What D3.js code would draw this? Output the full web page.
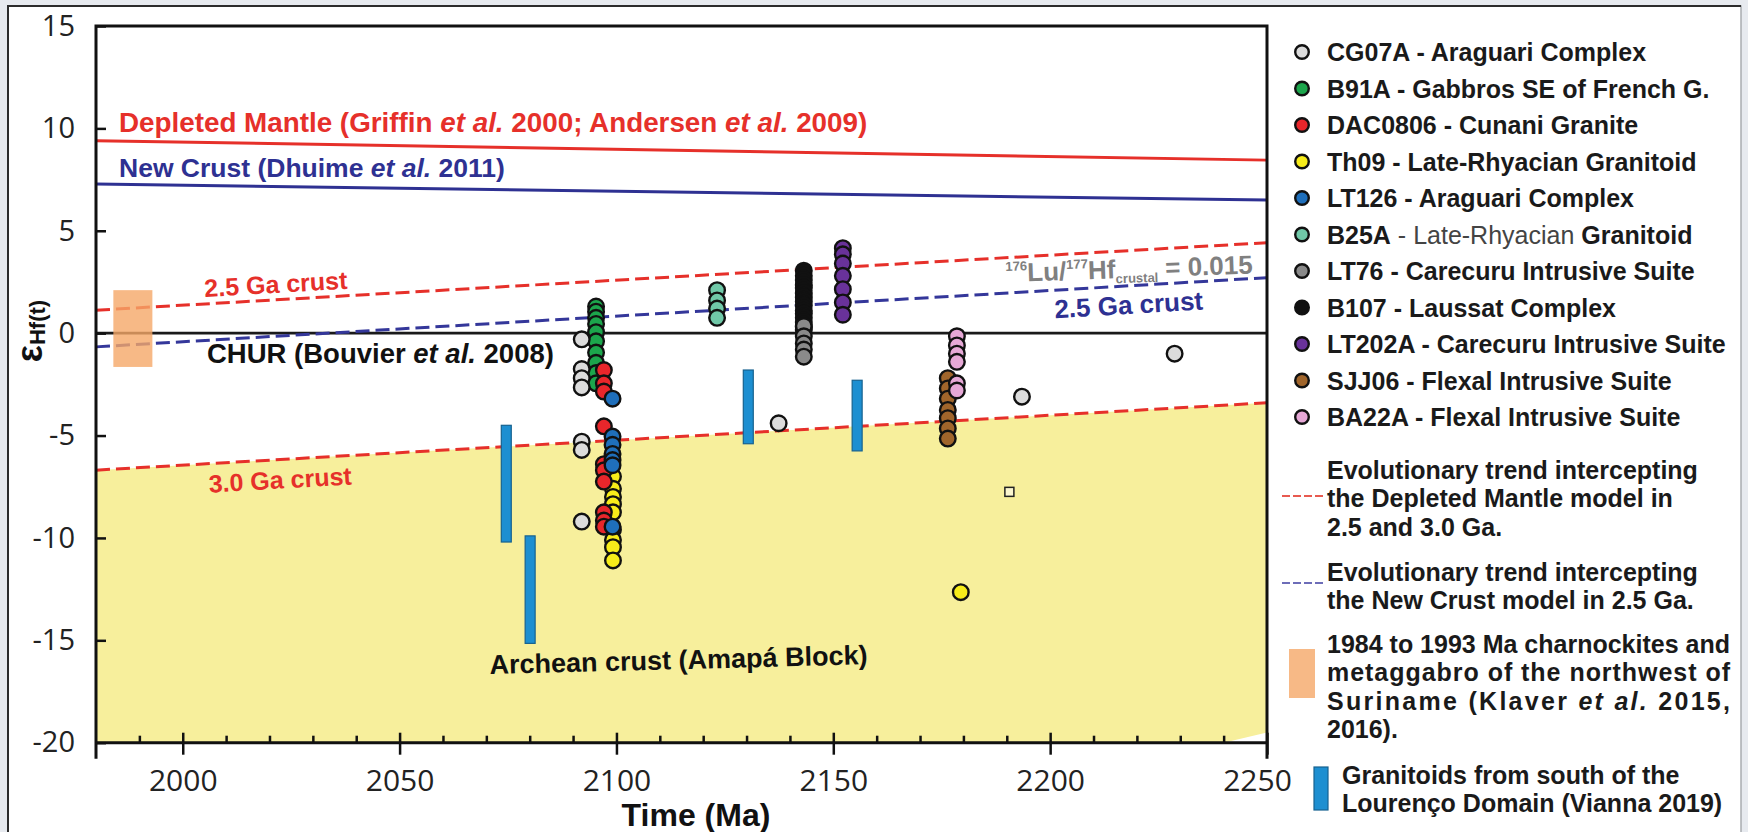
<!DOCTYPE html>
<html>
<head>
<meta charset="utf-8">
<script src="https://cdn.jsdelivr.net/npm/d3@7"></script>
<style>
  html, body { margin: 0; padding: 0; background: #e7eaef; }
  svg { display: block; }
  .bold { font-family: "Liberation Sans", Arial, sans-serif; font-weight: bold; }
  .tick text { font-family: "Open Sans", sans-serif; fill: #222; }
</style>
</head>
<body>
<svg id="chart" width="1748" height="832"></svg>
<script>
// ---------- data ----------
const xTicks = [2000, 2050, 2100, 2150, 2200, 2250];
const xMinorTicks = [1990, 2010, 2020, 2030, 2040, 2060, 2070, 2080, 2090, 2110, 2120, 2130, 2140,
                     2160, 2170, 2180, 2190, 2210, 2220, 2230, 2240];
const yTicks = [15, 10, 5, 0, -5, -10, -15, -20];

// model evolution lines: [age (Ma), εHf(t)]
const depletedMantle = [[1980, 9.4], [2250, 8.45]];
const newCrust       = [[1980, 7.28], [2250, 6.5]];
const chur           = [[1980, 0], [2250, 0]];
const dmCrust25      = [[1980, 1.12], [2250, 4.42]];
const dmCrust30      = [[1980, -6.69], [2250, -3.4]];
const ncCrust25      = [[1980, -0.67], [2250, 2.71]];
const archeanFloor   = [[2250, -19.5], [2240, -20], [1980, -20]];

// Klaver et al. field: [age min, age max, εHf min, εHf max]
const klaverField = [1984, 1993, -1.65, 2.1];
// Vianna (2019) granitoid ranges: [age, εHf min, εHf max]
const viannaRanges = [[2074.6, -10.2, -4.5], [2080.1, -15.15, -9.9], [2130.4, -5.4, -1.8], [2155.5, -5.75, -2.3]];
// isolated open square
const openSquare = [[2190.6, -7.75]];

// zircon Lu-Hf analyses: [age (Ma), εHf(t)]
const CG07A = [[2092, -0.3], [2092, -1.75], [2092, -2.2], [2092, -2.65], [2092, -5.3], [2092, -5.7],
               [2092, -9.2], [2137.4, -4.4], [2193.5, -3.1], [2228.7, -1.0]];
const B91A = [[2095.3, 1.3], [2095.3, 1.05], [2095.3, 0.75], [2095.3, 0.45], [2095.3, 0.05], [2095.3, -0.4],
              [2095.3, -0.95], [2095.3, -1.45], [2095.3, -1.95], [2095.3, -2.45]];
const DAC0806 = [[2097.1, -1.8], [2097.1, -2.45], [2097.1, -2.85], [2097.1, -4.55], [2097.1, -6.4],
                 [2097.1, -6.7], [2097.1, -7.25], [2097.1, -8.75], [2097.1, -9.15], [2097.1, -9.45]];
const Th09 = [[2099.2, -7.0], [2099.2, -7.6], [2099.2, -8.0], [2099.2, -8.35], [2099.2, -8.75],
              [2099.2, -9.6], [2099.2, -10.1], [2099.2, -10.45], [2099.2, -11.1], [2179.4, -12.65]];
const LT126 = [[2099.1, -3.2], [2099.1, -5.05], [2099.1, -5.45], [2099.1, -5.9], [2099.1, -6.2],
               [2099.1, -6.45], [2099.1, -9.45]];
const B25A = [[2123.2, 2.1], [2123.2, 1.6], [2123.2, 1.2], [2123.2, 0.75]];
const LT76 = [[2143.2, 0.35], [2143.2, -0.15], [2143.2, -0.5], [2143.2, -0.8], [2143.2, -1.15]];
const B107 = [[2143.2, 3.05], [2143.2, 2.8], [2143.2, 2.6], [2143.2, 2.35], [2143.2, 2.2], [2143.2, 1.95],
              [2143.2, 1.75], [2143.2, 1.55], [2143.2, 1.35], [2143.2, 1.1], [2143.2, 0.95], [2143.2, 0.75],
              [2143.2, 0.55], [2143.2, 0.3], [2143.2, 0.15]];
const LT202A = [[2152.2, 4.15], [2152.2, 3.85], [2152.2, 3.4], [2152.2, 2.8], [2152.2, 2.15],
                [2152.2, 1.5], [2152.2, 0.9]];
const SJJ06 = [[2176.4, -2.2], [2176.4, -2.7], [2176.4, -3.2], [2176.4, -3.75], [2176.4, -4.15],
               [2176.4, -4.65], [2176.4, -5.15]];
const BA22A = [[2178.5, -0.15], [2178.5, -0.6], [2178.5, -1.0], [2178.5, -1.4], [2178.5, -2.45], [2178.5, -2.8]];

// legend entries (sample id, unit)
const sampleIds = ["CG07A", "B91A", "DAC0806", "Th09", "LT126", "B25A", "LT76", "B107", "LT202A", "SJJ06", "BA22A"];
const sampleUnits = ["Araguari Complex", "Gabbros SE of French G.", "Cunani Granite", "Late-Rhyacian Granitoid",
                     "Araguari Complex", "Late-Rhyacian Granitoid", "Carecuru Intrusive Suite", "Laussat Complex",
                     "Carecuru Intrusive Suite", "Flexal Intrusive Suite", "Flexal Intrusive Suite"];

// ---------- styles ----------
const palette = {
  CG07A: "#dcdcdc", B91A: "#1ca64c", DAC0806: "#e8262b", Th09: "#f7ec1a", LT126: "#1f6fbb",
  B25A: "#70c8a8", LT76: "#8a8a8a", B107: "#111111", LT202A: "#69329a", SJJ06: "#a0652b", BA22A: "#e6a8d6"
};
const sampleData = { CG07A, B91A, DAC0806, Th09, LT126, B25A, LT76, B107, LT202A, SJJ06, BA22A };
const drawOrder = ["B91A", "CG07A", "Th09", "DAC0806", "LT126", "B25A", "B107", "LT76", "LT202A", "SJJ06", "BA22A"];

const RED = "#e6302a", NAVY = "#2e3192";

// ---------- layout ----------
const svg = d3.select("#chart");
const x = d3.scaleLinear().domain([1980, 2250]).range([96, 1267]);
const y = d3.scaleLinear().domain([-20, 15]).range([742.7, 26]);
const line = d3.line().x(d => x(d[0])).y(d => y(d[1]));
const valueAt = (ln, t) => ln[0][1] + (ln[1][1] - ln[0][1]) * (t - ln[0][0]) / (ln[1][0] - ln[0][0]);
const slopeDeg = ln => Math.atan2(y(ln[1][1]) - y(ln[0][1]), x(ln[1][0]) - x(ln[0][0])) * 180 / Math.PI;

// white panel
svg.append("rect").attr("x", 8).attr("y", 6).attr("width", 1733).attr("height", 830)
  .attr("fill", "#fff").attr("stroke", "#a9acb0").attr("stroke-width", 1.5);
svg.append("path").attr("d", "M8,840 L8,6 L1741,6").attr("fill", "none")
  .attr("stroke", "#2c2c2c").attr("stroke-width", 2);

const plot = svg.append("g");

// Archean crust field below the 3.0 Ga trend
const fieldPts = dmCrust30.concat(archeanFloor);
plot.append("path")
  .attr("d", "M" + fieldPts.map(d => [x(d[0]), y(d[1])].join(",")).join("L") + "Z")
  .attr("fill", "#f7ef9c");

// model lines
plot.append("path").attr("d", line(depletedMantle)).attr("stroke", RED).attr("stroke-width", 3).attr("fill", "none");
plot.append("path").attr("d", line(newCrust)).attr("stroke", NAVY).attr("stroke-width", 3).attr("fill", "none");
plot.append("path").attr("d", line(chur)).attr("stroke", "#1a1a1a").attr("stroke-width", 2.6).attr("fill", "none");
[dmCrust25, dmCrust30].forEach(ln =>
  plot.append("path").attr("d", line(ln)).attr("stroke", RED).attr("stroke-width", 3)
    .attr("stroke-dasharray", "14,6").attr("fill", "none"));
plot.append("path").attr("d", line(ncCrust25)).attr("stroke", "#34379a").attr("stroke-width", 3)
  .attr("stroke-dasharray", "14,6").attr("fill", "none");

// Klaver et al. field
plot.append("rect")
  .attr("x", x(klaverField[0])).attr("width", x(klaverField[1]) - x(klaverField[0]))
  .attr("y", y(klaverField[3])).attr("height", y(klaverField[2]) - y(klaverField[3]))
  .attr("fill", "#f5a868").attr("fill-opacity", 0.8);

// Vianna granitoid ranges
plot.selectAll(".vbar").data(viannaRanges).join("rect")
  .attr("x", d => x(d[0] - 1.15)).attr("width", d => x(d[0] + 1.15) - x(d[0] - 1.15))
  .attr("y", d => y(d[2])).attr("height", d => y(d[1]) - y(d[2]))
  .attr("fill", "#1d8fd1").attr("stroke", "#17628f").attr("stroke-width", 1.2);

// open square
plot.selectAll(".sq").data(openSquare).join("rect")
  .attr("x", d => x(d[0]) - 4.5).attr("y", d => y(d[1]) - 4.5).attr("width", 9).attr("height", 9)
  .attr("fill", "#fbf6cf").attr("stroke", "#222").attr("stroke-width", 1.5);

// zircon analyses
drawOrder.forEach(id => {
  plot.append("g").selectAll("circle").data(sampleData[id]).join("circle")
    .attr("cx", d => x(d[0])).attr("cy", d => y(d[1])).attr("r", 7.8)
    .attr("fill", palette[id]).attr("stroke", "#111").attr("stroke-width", 2.4);
});

// ---------- annotations ----------
function richText(g, parts, size) {
  const t = g.append("text").attr("class", "bold").attr("font-size", size);
  parts.forEach(p => {
    const s = t.append("tspan").text(p[0]);
    if (p[1]) s.attr("font-style", "italic");
  });
  return t;
}
richText(plot, [["Depleted Mantle (Griffin "], ["et al.", 1], [" 2000; Andersen "], ["et al.", 1], [" 2009)"]], 27.8)
  .attr("x", 119).attr("y", 132).attr("fill", RED);
richText(plot, [["New Crust (Dhuime "], ["et al.", 1], [" 2011)"]], 26.5)
  .attr("x", 119).attr("y", 177).attr("fill", NAVY);
richText(plot, [["CHUR (Bouvier "], ["et al.", 1], [" 2008)"]], 27.5)
  .attr("x", 207).attr("y", y(0) + 30).attr("fill", "#111");

function slopedLabel(txt, ln, t, offset, color, size) {
  const px = x(t), py = y(valueAt(ln, t)) + offset;
  plot.append("text").attr("class", "bold").attr("font-size", size).attr("fill", color)
    .attr("transform", `translate(${px},${py}) rotate(${slopeDeg(ln)})`).text(txt);
}
slopedLabel("2.5 Ga crust", dmCrust25, 2005.1, -7, RED, 25);
slopedLabel("3.0 Ga crust", dmCrust30, 2006.1, 29, RED, 25);
slopedLabel("2.5 Ga crust", ncCrust25, 2201.1, 28, NAVY, 26);

// 176Lu/177Hf label
const lu = plot.append("text").attr("class", "bold").attr("fill", "#808080")
  .attr("transform", `translate(${x(2189.8)},${y(valueAt(ncCrust25, 2189.8)) - 11}) rotate(-2)`);
lu.append("tspan").attr("font-size", 13).attr("dy", -11).text("176");
lu.append("tspan").attr("font-size", 26).attr("dy", 11).text("Lu/");
lu.append("tspan").attr("font-size", 13).attr("dy", -11).text("177");
lu.append("tspan").attr("font-size", 26).attr("dy", 11).text("Hf");
lu.append("tspan").attr("font-size", 13).attr("dy", 5).text("crustal");
lu.append("tspan").attr("font-size", 26).attr("dy", -5).text(" = 0.015");

plot.append("text").attr("class", "bold").attr("font-size", 27).attr("fill", "#111")
  .attr("transform", `translate(${x(2070.8)},${y(-16.65)}) rotate(-1.5)`)
  .text("Archean crust (Amapá Block)");

// ---------- axes ----------
const yAxis = svg.append("g").attr("transform", `translate(${x(1980)},0)`)
  .call(d3.axisLeft(y).tickValues(yTicks).tickSize(-10).tickPadding(21).tickFormat(d => String(d)));
yAxis.select(".domain").remove();
yAxis.selectAll(".tick line").attr("stroke", "#111").attr("stroke-width", 2.5);
yAxis.selectAll(".tick text").attr("font-size", 29);

const xAxis = svg.append("g").attr("transform", `translate(0,${y(-20)})`)
  .call(d3.axisBottom(x).tickValues(xTicks).tickSize(12).tickPadding(15).tickFormat(d => String(d)));
xAxis.select(".domain").remove();
xAxis.selectAll(".tick line").attr("y1", -10).attr("stroke", "#111").attr("stroke-width", 2.5);
xAxis.selectAll(".tick text").attr("font-size", 30)
  .attr("dx", d => d === 2250 ? -10 : 0);

const xMinor = svg.append("g").attr("transform", `translate(0,${y(-20)})`)
  .call(d3.axisBottom(x).tickValues(xMinorTicks).tickSize(-7).tickFormat(""));
xMinor.select(".domain").remove();
xMinor.selectAll(".tick line").attr("stroke", "#111").attr("stroke-width", 2.5);

// plot frame
const fx0 = x(1980), fx1 = x(2250), fy0 = y(15), fy1 = y(-20);
svg.append("path")
  .attr("d", `M${fx0},${fy1 + 16} L${fx0},${fy0} L${fx1},${fy0} L${fx1},${fy1 + 16} M${fx0},${fy1} L${fx1},${fy1}`)
  .attr("fill", "none").attr("stroke", "#111").attr("stroke-width", 3);

// axis titles
svg.append("text").attr("class", "bold").attr("font-size", 32).attr("fill", "#111")
  .attr("x", 696).attr("y", 826).attr("text-anchor", "middle").text("Time (Ma)");
const yt = svg.append("text").attr("class", "bold").attr("fill", "#111").attr("text-anchor", "middle")
  .attr("transform", "translate(42,331) rotate(-90)");
yt.append("tspan").attr("font-size", 36).text("ε");
yt.append("tspan").attr("font-size", 22).attr("dy", 3).text("Hf(t)");

// ---------- legend ----------
const lg = svg.append("g");
sampleIds.forEach((id, i) => {
  const cy = 52 + i * 36.5;
  lg.append("circle").attr("cx", 1302).attr("cy", cy).attr("r", 6.8)
    .attr("fill", palette[id]).attr("stroke", "#111").attr("stroke-width", 2.4);
  const t = lg.append("text").attr("class", "bold").attr("font-size", 25).attr("fill", "#1a1a1a")
    .attr("x", 1327).attr("y", cy + 9);
  if (id === "B25A") {
    t.append("tspan").text(id);
    t.append("tspan").attr("font-weight", "normal").attr("fill", "#444").text(" - Late-Rhyacian ");
    t.append("tspan").text("Granitoid");
  } else {
    t.text(`${id} - ${sampleUnits[i]}`);
  }
});

function legendLines(lines, x0, y0, dy, width) {
  lines.forEach((parts, i) => {
    const t = lg.append("text").attr("class", "bold").attr("font-size", 25).attr("fill", "#1a1a1a")
      .attr("x", x0).attr("y", y0 + i * dy);
    parts.forEach(p => {
      const s = t.append("tspan").text(p[0]);
      if (p[1]) s.attr("font-style", "italic");
    });
    if (width && i < lines.length - 1) t.attr("textLength", width).attr("lengthAdjust", "spacing");
  });
}
lg.append("line").attr("x1", 1282).attr("x2", 1323).attr("y1", 496).attr("y2", 496)
  .attr("stroke", "#e85a50").attr("stroke-width", 2.2).attr("stroke-dasharray", "8,3");
legendLines([[["Evolutionary trend intercepting"]], [["the Depleted Mantle model in"]], [["2.5 and 3.0 Ga."]]],
  1327, 479, 28.4);

lg.append("line").attr("x1", 1282).attr("x2", 1323).attr("y1", 583).attr("y2", 583)
  .attr("stroke", "#6d6db8").attr("stroke-width", 2.2).attr("stroke-dasharray", "8,3");
legendLines([[["Evolutionary trend intercepting"]], [["the New Crust model in 2.5 Ga."]]], 1327, 580.7, 28.4);

lg.append("rect").attr("x", 1289).attr("y", 649).attr("width", 26).attr("height", 49)
  .attr("fill", "#f5a868").attr("fill-opacity", 0.8);
legendLines([
  [["1984 to 1993 Ma charnockites and"]],
  [["metaggabro of the northwest of"]],
  [["Suriname (Klaver "], ["et al.", 1], [" 2015,"]],
  [["2016)."]]
], 1327, 653, 28.4, 403);

lg.append("rect").attr("x", 1314).attr("y", 767).attr("width", 14).attr("height", 43)
  .attr("fill", "#1d8fd1").attr("stroke", "#17628f").attr("stroke-width", 1.2);
legendLines([[["Granitoids from south of the"]], [["Lourenço Domain (Vianna 2019)"]]], 1342, 784, 28.4);
</script>
</body>
</html>
